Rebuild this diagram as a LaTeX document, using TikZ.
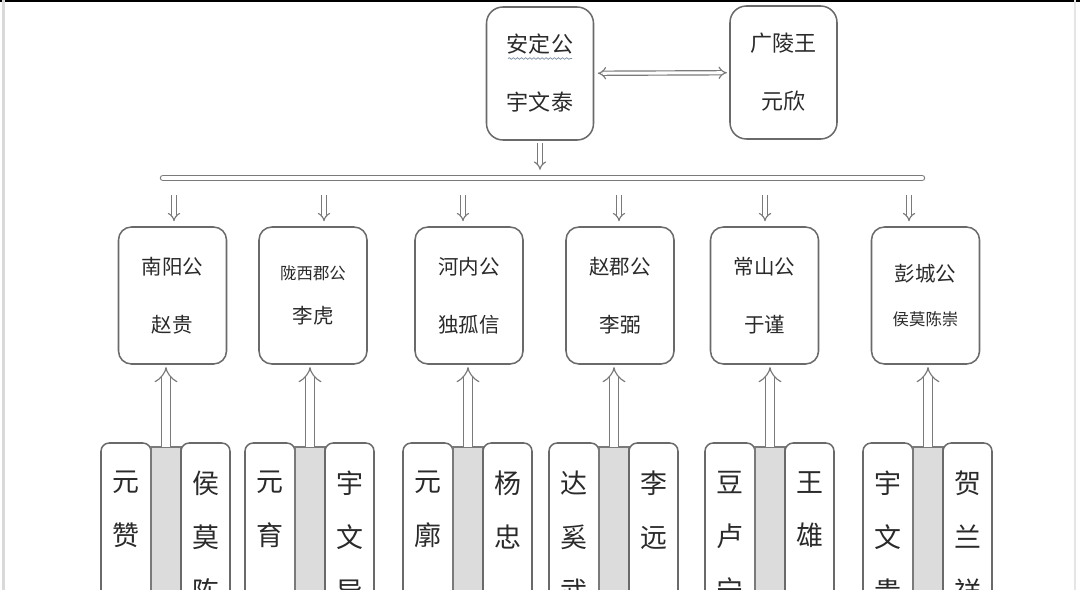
\documentclass[tikz,border=0pt]{standalone}
\usepackage{fontspec}
\newfontfamily\cjk{Noto Sans CJK SC}
\usetikzlibrary{shapes,arrows,arrows.meta}
\usetikzlibrary{positioning,calc,decorations.pathmorphing}

\definecolor{linegray}{HTML}{6A6A6A}
\definecolor{arrgray}{HTML}{7A7A7A}
\definecolor{stripgray}{HTML}{DCDCDC}
\definecolor{txtgray}{HTML}{2A2A2A}
\definecolor{waveblue}{HTML}{7C8FA6}
\newcommand{\pxu}{0.03cm}

\tikzset{
  lord/.style={draw=linegray, line width=1.3pt, rounded corners=11pt,
    minimum width=108*\pxu, minimum height=137*\pxu, inner sep=0pt,
    align=center, text=txtgray, font=\cjk\fontsize{17.5}{49.5}\selectfont},
  duke/.style={lord, rounded corners=14pt, minimum width=107*\pxu,
    minimum height=133*\pxu, font=\cjk\fontsize{18.8}{49.5}\selectfont},
  col/.style={draw=linegray, line width=1.3pt, rounded corners=7pt,
    minimum width=50*\pxu, minimum height=200*\pxu, inner sep=0pt,
    outer sep=0pt, anchor=north west},
  strip/.style={draw=arrgray, fill=stripgray, line width=1pt,
    minimum width=30*\pxu, minimum height=196*\pxu, inner sep=0pt,
    outer sep=0pt, anchor=north west},
  vtext/.style={text=txtgray, font=\cjk\fontsize{23}{46}\selectfont,
    align=center, inner sep=0pt, anchor=north},
  hollow/.style={draw=arrgray, line width=1pt, double=white,
    double distance=2.6pt, -{Implies}},
  hollowup/.style={hollow, double distance=6pt}
}

\begin{document}
\begin{tikzpicture}[x=0.03cm, y=-0.03cm]
\useasboundingbox (0,0) rectangle (1080,590);
\clip (0,0) rectangle (1080,590);

% frame of the screenshot
\fill[black] (0,0) rectangle (1080,2.5);
\fill[gray!30] (2,0) rectangle (4.5,590);
\fill[gray!20] (1074,0) rectangle (1076,590);

% top row
\node[duke] (anding) at (540,73.5) {安定公\\宇文泰};
\node[duke] (guangling) at (783.5,72.5) {广陵王\\元欣};
\draw[decorate, decoration={snake, amplitude=0.7pt, segment length=3.5pt},
  draw=waveblue, line width=0.6pt]
  ($(anding.center)+(-32,-15)$) -- ($(anding.center)+(32,-15)$);

\draw[hollow, {Implies}-{Implies}, shorten <=3pt, shorten >=2pt] (anding) -- (guangling);

% the bar
\coordinate (barL) at (163,178);
\coordinate (barR) at (922,178);
\draw[draw=arrgray, line width=1pt, double=white, double distance=3.5pt, line cap=round] (barL) -- (barR);
\draw[hollow, shorten <=2pt, shorten >=7pt] (anding.south) -- (anding.south |- barL);

% second row
\node[lord] (zhaogui) at (172.5,295.5) {南阳公\\赵贵};
\node[lord] (lihu) at (313,295.5) {{\fontsize{14}{38}\selectfont 陇西郡公}\\[-11.5pt]李虎};
\node[lord] (dugu) at (469,295.5) {河内公\\独孤信};
\node[lord] (libi) at (620,295.5) {赵郡公\\李弼};
\node[lord] (yujin) at (764.5,295.5) {常山公\\于谨};
\node[lord] (houmo) at (925.5,295.5) {彭城公\\[-11.5pt]{\fontsize{14}{38}\selectfont 侯莫陈崇}};

\foreach \n/\dx in {zhaogui/1.5, lihu/11, dugu/-6, libi/-1, yujin/0.5, houmo/-16.5}
  \draw[hollow] ($(\n.north |- barL)+(\dx,17)$) -- ($(\n.north)+(\dx,-5)$);

% third row
\foreach \x/\lname/\rname/\boss [count=\i] in {
    101/{元\\赞}/{侯\\莫\\陈\\崇}/zhaogui,
    245/{元\\育}/{宇\\文\\导}/lihu,
    403/{元\\廓}/{杨\\忠}/dugu,
    549/{达\\奚\\武}/{李\\远}/libi,
    705/{豆\\卢\\宁}/{王\\雄}/yujin,
    863/{宇\\文\\贵}/{贺\\兰\\祥}/houmo}{
  \node[col] (g\i l) at (\x,443) {};
  \node[strip] (g\i m) at ($(g\i l.north east)+(0,4)$) {};
  \node[col, minimum width=49*\pxu] (g\i r) at ($(g\i m.north east)+(0,-4)$) {};
  \node[vtext] (g\i lt) at ($(g\i l.north)+(0,28)$) {\lname};
  \node[vtext] (g\i rt) at ($(g\i r.north)+(0,28)$) {\rname};
  \draw[hollowup, shorten >=2pt] (g\i m.north) -- (g\i m.north |- \boss.south);
}
\end{tikzpicture}
\end{document}
